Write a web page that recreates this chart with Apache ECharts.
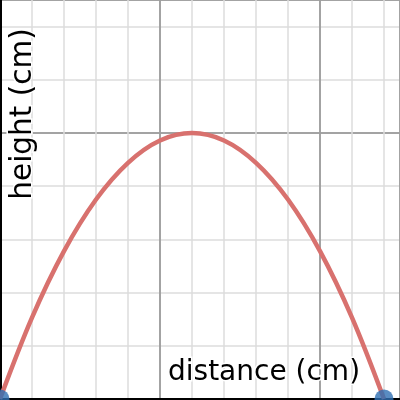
<!DOCTYPE html>
<html>
<head>
<meta charset="utf-8">
<script src="https://cdn.jsdelivr.net/npm/echarts@6/dist/echarts.min.js"></script>
<style>
  html, body { margin: 0; padding: 0; background: #fff; }
  #chart { width: 400px; height: 400px; }
</style>
</head>
<body>
<div id="chart"></div>
<script>
// 数据
const distance = [0, 1, 2, 3, 4, 5, 6, 7, 8, 9, 10, 11, 12]
const height = [0, 1.53, 2.78, 3.75, 4.44, 4.86, 5, 4.86, 4.44, 3.75, 2.78, 1.53, 0]
const endPoints = [[0, 0], [12, 0]]
const xLabel = 'distance (cm)'
const yLabel = 'height (cm)'
const minorStep = 1
const majorStep = 5

const curve = distance.map((d, i) => [d, height[i]])

const myChart = echarts.init(document.getElementById('chart'))

function gridAxis(step, color, extra) {
  return Object.assign({
    type: 'value',
    min: 0,
    interval: step,
    axisLabel: { show: false },
    axisTick: { show: false },
    axisLine: { show: false },
    splitLine: { show: true, lineStyle: { color: color, width: 1.5 } }
  }, extra)
}

myChart.setOption({
  animation: false,
  grid: { left: -1, right: 0, top: 0, bottom: 1 },
  xAxis: [
    gridAxis(minorStep, '#dddddd', {
      max: 12.5,
      axisLine: { show: true, onZero: true, lineStyle: { color: '#000', width: 3 } }
    }),
    gridAxis(majorStep, '#8e8e8e', { max: 12.5 })
  ],
  yAxis: [
    gridAxis(minorStep, '#dddddd', {
      max: 7.5,
      axisLine: { show: true, onZero: true, lineStyle: { color: '#000', width: 4 } }
    }),
    gridAxis(majorStep, '#8e8e8e', { max: 7.5 })
  ],
  series: [
    {
      type: 'line',
      data: curve,
      smooth: 0.35,
      showSymbol: false,
      z: 5,
      lineStyle: { color: '#d8716e', width: 4.5 }
    },
    {
      type: 'scatter',
      data: endPoints,
      symbolSize: 19,
      z: 6,
      itemStyle: { color: '#2f6fb3' }
    }
  ],
  // 坐标轴标题
  graphic: [
    {
      type: 'text',
      x: 168,
      y: 373,
      z: 10,
      style: {
        text: xLabel,
        fontFamily: 'DejaVu Sans',
        fontSize: 28,
        fill: '#000',
        stroke: '#fff',
        lineWidth: 3,
        textAlign: 'left',
        textVerticalAlign: 'middle'
      }
    },
    {
      type: 'text',
      x: 23,
      y: 114,
      rotation: Math.PI / 2,
      z: 10,
      style: {
        text: yLabel,
        fontFamily: 'DejaVu Sans',
        fontSize: 29.5,
        fill: '#000',
        stroke: '#fff',
        lineWidth: 3,
        textAlign: 'center',
        textVerticalAlign: 'middle'
      }
    }
  ]
})
</script>
</body>
</html>
